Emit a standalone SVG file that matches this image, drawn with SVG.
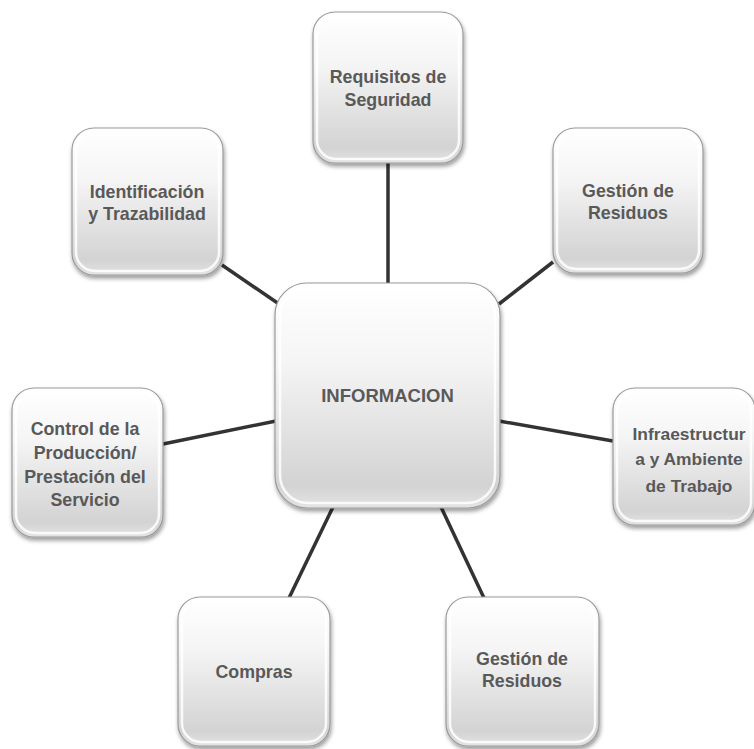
<svg xmlns="http://www.w3.org/2000/svg" width="754" height="749" viewBox="0 0 754 749">
<style>
.box{fill:url(#g);stroke:#9a9a9a;stroke-width:1.2;filter:url(#sh)}
.rim{fill:none;stroke:#ffffff;stroke-width:2.5;opacity:0.85}
.t{font-family:"Liberation Sans",Arial,sans-serif;font-weight:bold;font-size:17.8px;fill:#595959;text-anchor:middle}
.c{stroke:#333333;stroke-width:3.5;stroke-linecap:butt;fill:none}
</style>
<defs>
<linearGradient id="g" x1="0" y1="0" x2="0" y2="1">
<stop offset="0" stop-color="#ffffff"/>
<stop offset="0.35" stop-color="#f5f5f5"/>
<stop offset="0.9" stop-color="#d3d3d3"/>
<stop offset="1" stop-color="#e4e4e4"/>
</linearGradient>
<filter id="sh" x="-10%" y="-10%" width="125%" height="125%">
<feGaussianBlur in="SourceAlpha" stdDeviation="2"/>
<feOffset dx="1" dy="3" result="o"/>
<feComponentTransfer><feFuncA type="linear" slope="0.4"/></feComponentTransfer>
<feMerge><feMergeNode/><feMergeNode in="SourceGraphic"/></feMerge>
</filter>
</defs>
<rect width="754" height="749" fill="#ffffff"/>
<g id="connectors">
<line class="c" x1="388" y1="163" x2="388" y2="284"/>
<line class="c" x1="222" y1="265" x2="279" y2="304"/>
<line class="c" x1="553" y1="262" x2="499" y2="304"/>
<line class="c" x1="163" y1="444" x2="276" y2="421"/>
<line class="c" x1="499" y1="421" x2="613" y2="441"/>
<line class="c" x1="333" y1="507" x2="289" y2="598"/>
<line class="c" x1="441" y1="507" x2="484" y2="598"/>
</g>
<g id="center">
<rect class="box" x="275" y="283" width="225" height="225" rx="32"/>
<rect class="rim" x="280" y="288" width="215" height="215" rx="28"/>
<text class="t" x="387.5" y="402" style="font-size:18.5px">INFORMACION</text>
</g>
<g id="requisitos">
<rect class="box" x="313" y="12" width="150" height="151" rx="22"/>
<rect class="rim" x="317" y="16" width="142" height="143" rx="19"/>
<text class="t" x="388" y="83">Requisitos de</text>
<text class="t" x="388" y="106">Seguridad</text>
</g>
<g id="identificacion">
<rect class="box" x="72" y="128" width="151" height="147" rx="22"/>
<rect class="rim" x="76" y="132" width="143" height="139" rx="19"/>
<text class="t" x="147" y="198">Identificación</text>
<text class="t" x="147" y="220">y Trazabilidad</text>
</g>
<g id="gestion1">
<rect class="box" x="553" y="128" width="150" height="145" rx="22"/>
<rect class="rim" x="557" y="132" width="142" height="137" rx="19"/>
<text class="t" x="628" y="197">Gestión de</text>
<text class="t" x="628" y="219">Residuos</text>
</g>
<g id="control">
<rect class="box" x="12" y="388" width="151" height="149" rx="22"/>
<rect class="rim" x="16" y="392" width="143" height="141" rx="19"/>
<text class="t" x="85" y="435">Control de la</text>
<text class="t" x="85" y="459">Producción/</text>
<text class="t" x="85" y="483">Prestación del</text>
<text class="t" x="85" y="506">Servicio</text>
</g>
<g id="infraestructura">
<rect class="box" x="613" y="388" width="142" height="137" rx="22"/>
<rect class="rim" x="617" y="392" width="134" height="129" rx="19"/>
<text class="t" x="689" y="440" style="font-size:17.4px">Infraestructur</text>
<text class="t" x="689" y="465" style="font-size:17.4px">a y Ambiente</text>
<text class="t" x="689" y="492" style="font-size:17.4px">de Trabajo</text>
</g>
<g id="compras">
<rect class="box" x="178" y="597" width="152" height="149" rx="22"/>
<rect class="rim" x="182" y="601" width="144" height="141" rx="19"/>
<text class="t" x="254" y="678">Compras</text>
</g>
<g id="gestion2">
<rect class="box" x="446" y="597" width="153" height="149" rx="22"/>
<rect class="rim" x="450" y="601" width="145" height="141" rx="19"/>
<text class="t" x="522" y="665">Gestión de</text>
<text class="t" x="522" y="687">Residuos</text>
</g>
</svg>
